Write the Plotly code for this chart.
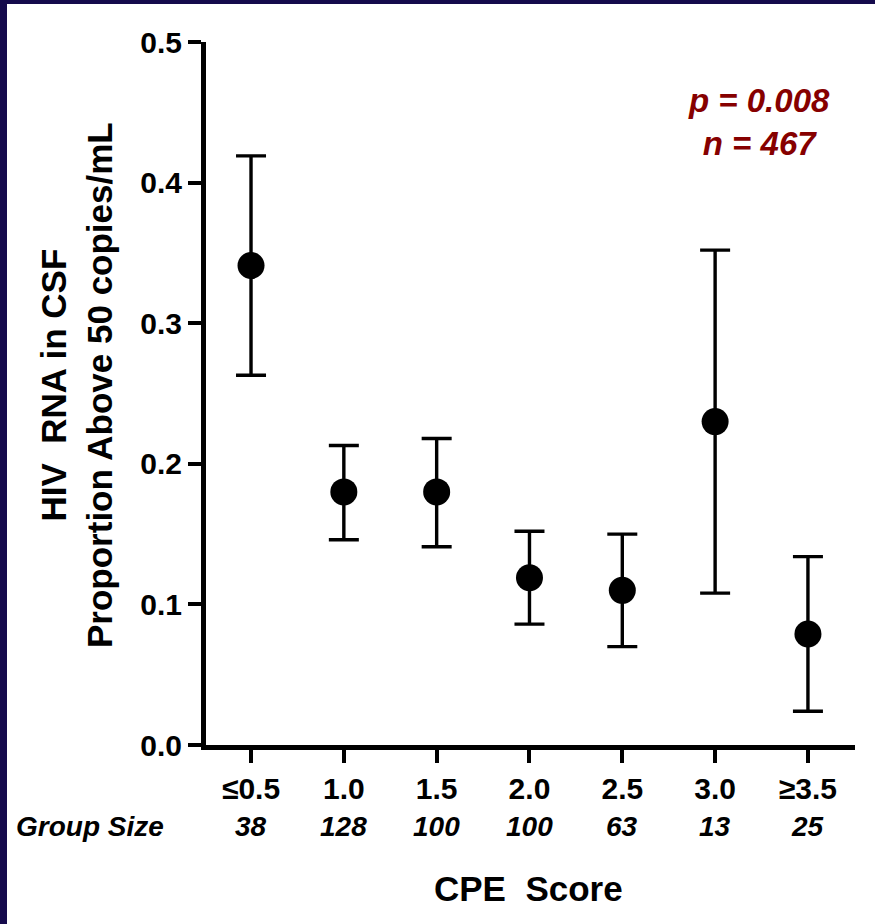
import plotly.graph_objects as go

categories = ["≤0.5", "1.0", "1.5", "2.0", "2.5", "3.0", "≥3.5"]
group_sizes = ["38", "128", "100", "100", "63", "13", "25"]
proportion = [0.341, 0.180, 0.180, 0.119, 0.110, 0.230, 0.079]
ci_upper = [0.419, 0.213, 0.218, 0.152, 0.150, 0.352, 0.134]
ci_lower = [0.263, 0.146, 0.141, 0.086, 0.070, 0.108, 0.024]
y_ticks = [0.0, 0.1, 0.2, 0.3, 0.4, 0.5]
y_ticklabels = ["0.0", "0.1", "0.2", "0.3", "0.4", "0.5"]

W, H = 875, 924
ML, MR, MT, MB = 206, 20, 42, 179
PW, PH = W - ML - MR, H - MT - MB

def px_x(p):
    return (p - ML) / PW

def px_y(p):
    return (H - MB - p) / PH

xpos = list(range(len(categories)))
err_plus = [u - m for u, m in zip(ci_upper, proportion)]
err_minus = [m - l for m, l in zip(proportion, ci_lower)]

FONT = "Liberation Sans, Arial, Helvetica, sans-serif"

fig = go.Figure()
fig.add_trace(go.Scatter(
    x=xpos, y=proportion, mode="markers",
    marker=dict(size=27, color="black", symbol="circle"),
    error_y=dict(type="data", symmetric=False, array=err_plus, arrayminus=err_minus,
                 color="black", thickness=3.4, width=15),
    showlegend=False, cliponaxis=False, hoverinfo="skip",
))

fig.update_layout(
    width=W, height=H,
    margin=dict(l=ML, r=MR, t=MT, b=MB),
    paper_bgcolor="white", plot_bgcolor="white",
    font=dict(family=FONT, color="black"),
    xaxis=dict(
        range=[-0.485, 6.507], tickmode="array", tickvals=xpos, ticktext=categories,
        showline=True, linecolor="black", linewidth=5, showgrid=False, zeroline=False,
        ticks="outside", ticklen=13, tickwidth=4, tickcolor="black",
        tickfont=dict(size=30, family=FONT, weight="bold"),
    ),
    yaxis=dict(
        range=[0, 0.5], tickmode="array", tickvals=y_ticks, ticktext=y_ticklabels,
        showline=True, linecolor="black", linewidth=5, showgrid=False, zeroline=False,
        ticks="outside", ticklen=13, tickwidth=4, tickcolor="black",
        tickfont=dict(size=30, family=FONT, weight="bold"),
    ),
)

# dark frame edges (left and top)
fig.add_shape(type="rect", xref="paper", yref="paper",
              x0=px_x(0), x1=px_x(7), y0=px_y(H), y1=px_y(0),
              fillcolor="#150a4c", line=dict(width=0), layer="below")
fig.add_shape(type="rect", xref="paper", yref="paper",
              x0=px_x(0), x1=px_x(W), y0=px_y(4), y1=px_y(0),
              fillcolor="#150a4c", line=dict(width=0), layer="below")

# y axis title (two lines)
fig.add_annotation(
    text="HIV\u00a0 RNA in CSF<br>Proportion Above 50 copies/mL",
    xref="paper", yref="paper", x=px_x(76), y=px_y(385),
    xanchor="center", yanchor="middle", textangle=-90, showarrow=False,
    font=dict(size=35, family=FONT, weight="bold", color="black"),
)

# group size row
fig.add_annotation(
    text="Group Size", xref="paper", yref="paper", x=px_x(90), y=px_y(826),
    xanchor="center", yanchor="middle", showarrow=False,
    font=dict(size=28, family=FONT, weight="bold", style="italic", color="black"),
)
for xi, g in zip(xpos, group_sizes):
    fig.add_annotation(
        text=g, xref="x", yref="paper", x=xi, y=px_y(826),
        xanchor="center", yanchor="middle", showarrow=False,
        font=dict(size=28, family=FONT, weight="bold", style="italic", color="black"),
    )

# x axis title
fig.add_annotation(
    text="CPE\u00a0 Score", xref="paper", yref="paper", x=px_x(528), y=px_y(888),
    xanchor="center", yanchor="middle", showarrow=False,
    font=dict(size=35, family=FONT, weight="bold", color="black"),
)

# statistics
fig.add_annotation(
    text="p = 0.008<br>n = 467", xref="paper", yref="paper", x=px_x(759), y=px_y(122),
    xanchor="center", yanchor="middle", showarrow=False, align="center",
    font=dict(size=33, family=FONT, weight="bold", style="italic", color="#860000"),
)

fig.write_html(
    "out.html",
    config={"displayModeBar": False},
    post_script="document.body.style.margin='0';document.body.style.overflow='hidden';",
)
